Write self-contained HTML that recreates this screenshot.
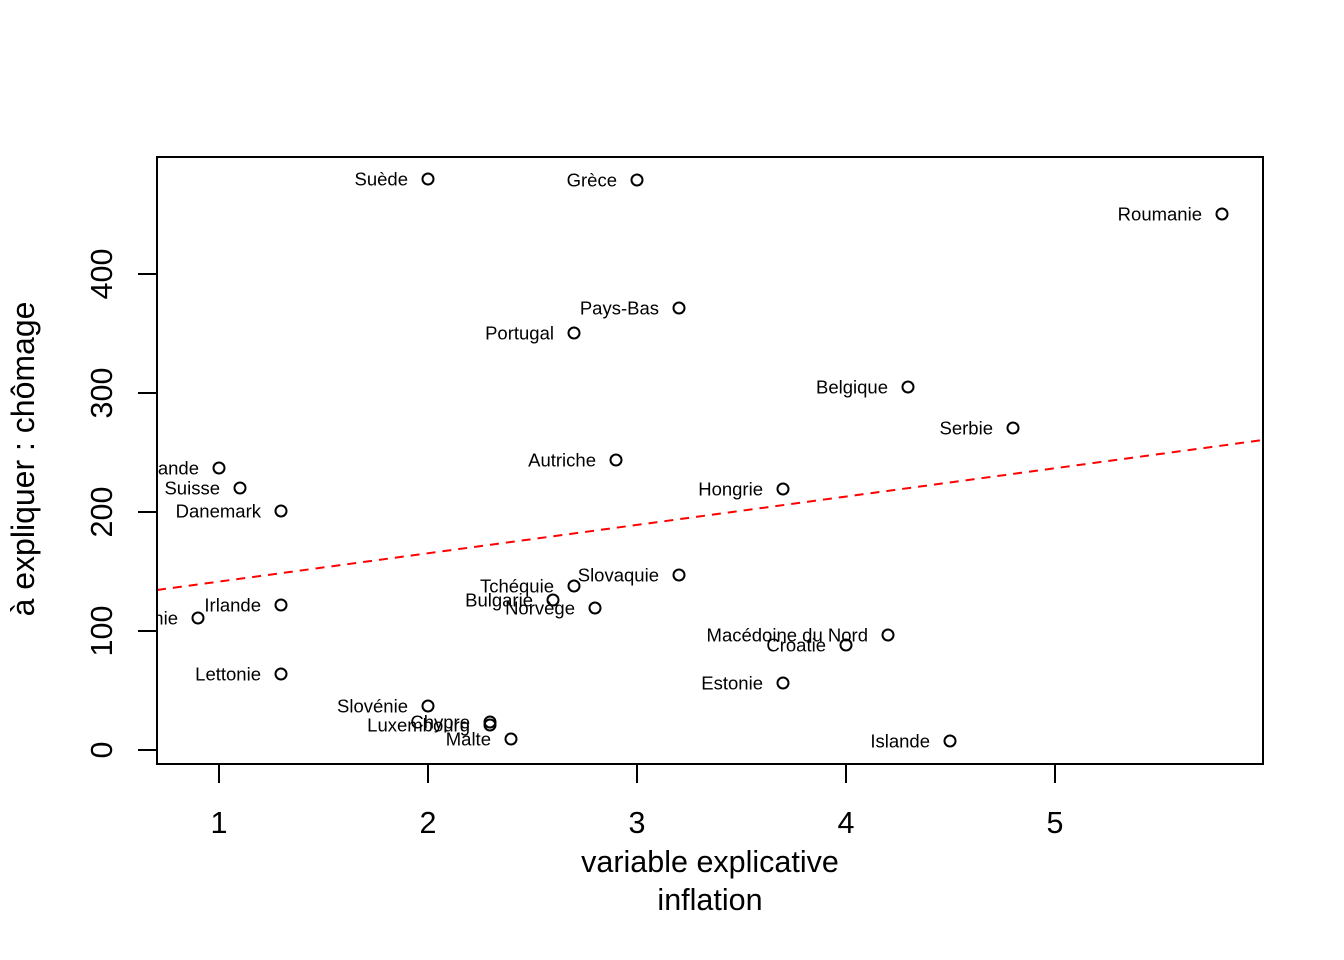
<!DOCTYPE html>
<html>
<head>
<meta charset="utf-8">
<style>
html,body{margin:0;padding:0;background:#fff;}
svg{display:block;}
text{font-family:"Liberation Sans",Arial,sans-serif;fill:#000;}
.lab{font-size:18.5px;text-anchor:end;}
.tick{font-size:30.5px;text-anchor:middle;}
</style>
</head>
<body>
<svg width="1344" height="960" viewBox="0 0 1344 960" xmlns="http://www.w3.org/2000/svg">
<defs>
<clipPath id="pc"><rect x="157" y="157" width="1106" height="607"/></clipPath>
</defs>
<rect width="1344" height="960" fill="#fff"/>

<!-- regression line -->
<g clip-path="url(#pc)">
<line x1="157" y1="590" x2="1263" y2="440" stroke="#ff0000" stroke-width="2" stroke-dasharray="9 7"/>
</g>

<!-- points -->
<g fill="none" stroke="#000" stroke-width="2">
<circle cx="428" cy="179" r="5.5"/>
<circle cx="637" cy="180" r="5.5"/>
<circle cx="1222" cy="214" r="5.5"/>
<circle cx="679" cy="308" r="5.5"/>
<circle cx="574" cy="333" r="5.5"/>
<circle cx="908" cy="387" r="5.5"/>
<circle cx="1013" cy="428" r="5.5"/>
<circle cx="616" cy="460" r="5.5"/>
<circle cx="783" cy="489" r="5.5"/>
<circle cx="219" cy="468" r="5.5"/>
<circle cx="240" cy="488" r="5.5"/>
<circle cx="281" cy="511" r="5.5"/>
<circle cx="679" cy="575" r="5.5"/>
<circle cx="574" cy="586" r="5.5"/>
<circle cx="553" cy="600" r="5.5"/>
<circle cx="595" cy="608" r="5.5"/>
<circle cx="281" cy="605" r="5.5"/>
<circle cx="198" cy="618" r="5.5"/>
<circle cx="888" cy="635" r="5.5"/>
<circle cx="846" cy="645" r="5.5"/>
<circle cx="783" cy="683" r="5.5"/>
<circle cx="281" cy="674" r="5.5"/>
<circle cx="428" cy="706" r="5.5"/>
<circle cx="490" cy="722" r="5.5"/>
<circle cx="490" cy="725" r="5.5"/>
<circle cx="511" cy="739" r="5.5"/>
<circle cx="950" cy="741" r="5.5"/>
</g>

<!-- point labels -->
<g clip-path="url(#pc)">
<text class="lab" x="408" y="185.5">Suède</text>
<text class="lab" x="617" y="186.5">Grèce</text>
<text class="lab" x="1202" y="220.5">Roumanie</text>
<text class="lab" x="659" y="314.5">Pays-Bas</text>
<text class="lab" x="554" y="339.5">Portugal</text>
<text class="lab" x="888" y="393.5">Belgique</text>
<text class="lab" x="993" y="434.5">Serbie</text>
<text class="lab" x="596" y="466.5">Autriche</text>
<text class="lab" x="763" y="495.5">Hongrie</text>
<text class="lab" x="199" y="474.5">Finlande</text>
<text class="lab" x="220" y="494.5">Suisse</text>
<text class="lab" x="261" y="517.5">Danemark</text>
<text class="lab" x="659" y="581.5">Slovaquie</text>
<text class="lab" x="554" y="592.5">Tchéquie</text>
<text class="lab" x="533" y="606.5">Bulgarie</text>
<text class="lab" x="575" y="614.5">Norvège</text>
<text class="lab" x="261" y="611.5">Irlande</text>
<text class="lab" x="178" y="624.5">Lituanie</text>
<text class="lab" x="868" y="641.5">Macédoine du Nord</text>
<text class="lab" x="826" y="651.5">Croatie</text>
<text class="lab" x="763" y="689.5">Estonie</text>
<text class="lab" x="261" y="680.5">Lettonie</text>
<text class="lab" x="408" y="712.5">Slovénie</text>
<text class="lab" x="470" y="728.5">Chypre</text>
<text class="lab" x="470" y="731.5">Luxembourg</text>
<text class="lab" x="491" y="745.5">Malte</text>
<text class="lab" x="930" y="747.5">Islande</text>
</g>

<!-- box -->
<rect x="157" y="157" width="1106" height="607" fill="none" stroke="#000" stroke-width="2"/>

<!-- axes ticks -->
<g stroke="#000" stroke-width="2">
<line x1="219" y1="764" x2="1055" y2="764"/>
<line x1="219" y1="764" x2="219" y2="783"/>
<line x1="428" y1="764" x2="428" y2="783"/>
<line x1="637" y1="764" x2="637" y2="783"/>
<line x1="846" y1="764" x2="846" y2="783"/>
<line x1="1055" y1="764" x2="1055" y2="783"/>
<line x1="157" y1="274" x2="157" y2="750"/>
<line x1="138" y1="750" x2="157" y2="750"/>
<line x1="138" y1="631" x2="157" y2="631"/>
<line x1="138" y1="512" x2="157" y2="512"/>
<line x1="138" y1="393" x2="157" y2="393"/>
<line x1="138" y1="274" x2="157" y2="274"/>
</g>

<!-- x tick labels -->
<text class="tick" x="219" y="833">1</text>
<text class="tick" x="428" y="833">2</text>
<text class="tick" x="637" y="833">3</text>
<text class="tick" x="846" y="833">4</text>
<text class="tick" x="1055" y="833">5</text>

<!-- y tick labels -->
<text class="tick" transform="translate(112,750) rotate(-90)">0</text>
<text class="tick" transform="translate(112,631) rotate(-90)">100</text>
<text class="tick" transform="translate(112,512) rotate(-90)">200</text>
<text class="tick" transform="translate(112,393) rotate(-90)">300</text>
<text class="tick" transform="translate(112,274) rotate(-90)">400</text>

<!-- axis titles -->
<text class="tick" x="710" y="872">variable explicative</text>
<text class="tick" x="710" y="910">inflation</text>
<text class="tick" style="font-size:32px" transform="translate(34,459) rotate(-90)">à expliquer : chômage</text>
</svg>
</body>
</html>
